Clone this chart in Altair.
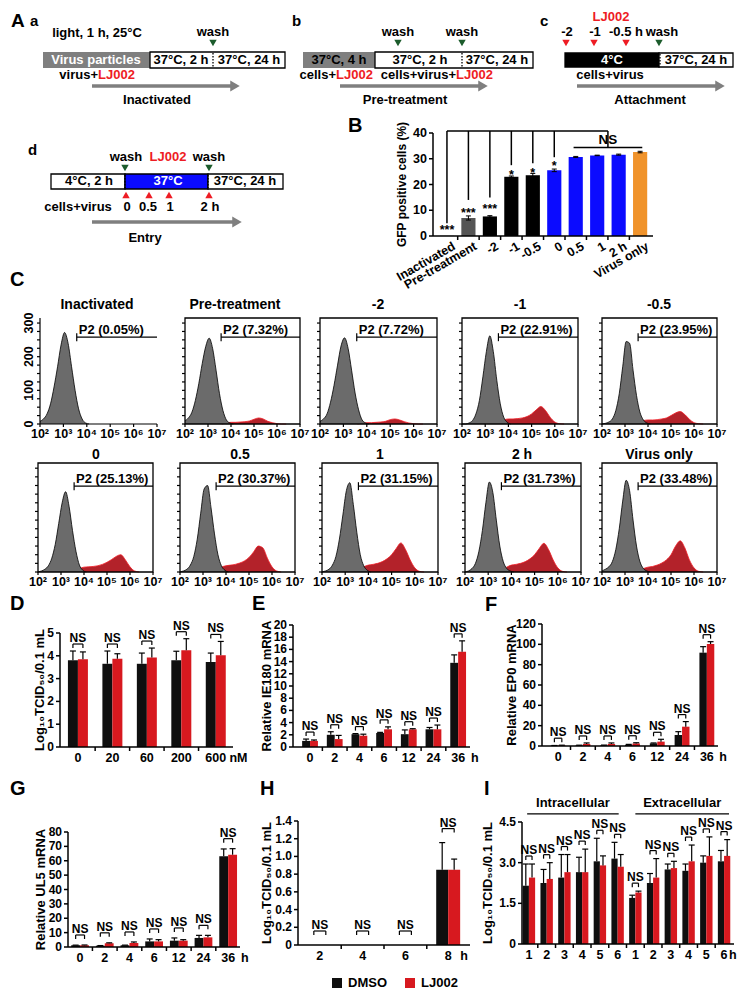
import altair as alt
import pandas as pd

FONT = "Liberation Sans, Arial, sans-serif"
OFF = 8
W, H = 729, 981

BAR_BLACK = "#0f0f0f"
BAR_RED = "#d7191f"
GREEN = "#1c5c2c"
RED_TXT = "#ee1c24"
GRAY = "#7f7f7f"
BLUE = "#0b0bff"

# ---------------- schematic (panel A), reference-pixel coordinates ----------------
BOXES = [  # x1, x2, y1, y2, fill, stroke
    (43, 150, 52, 68, GRAY, "none"),
    (150, 285, 52, 68, "white", "black"),
    (303, 375, 52, 68, GRAY, "none"),
    (375, 533, 52, 68, "white", "black"),
    (565, 659, 53, 67, "black", "black"),
    (659, 733, 53, 67, "white", "black"),
    (51, 125, 174, 189, "white", "black"),
    (125, 208, 174, 189, BLUE, "black"),
    (208, 283, 174, 189, "white", "black"),
    (332, 342, 978, 988, BAR_BLACK, "none"),
    (405, 415, 978, 988, BAR_RED, "none"),
]
DOTTED = [(213, 53, 67), (462, 53, 67), (660, 54, 66), (125, 175, 188), (208, 175, 188)]
TRIANGLES = [
    (213, 43, "triangle-down", GREEN), (398, 43, "triangle-down", GREEN),
    (462, 43, "triangle-down", GREEN), (659, 43, "triangle-down", GREEN),
    (125, 168, "triangle-down", GREEN), (209, 168, "triangle-down", GREEN),
    (566, 43, "triangle-down", RED_TXT), (594, 43, "triangle-down", RED_TXT),
    (626, 43, "triangle-down", RED_TXT),
    (126, 195, "triangle-up", RED_TXT), (149, 195, "triangle-up", RED_TXT),
    (169, 195, "triangle-up", RED_TXT), (209, 195, "triangle-up", RED_TXT),
]
ARROWS = [(92, 240, 86), (340, 488, 86), (577, 725, 86), (92, 242, 222)]
TEXTS = [  # text, x, y, colour, size, align
    ("A", 11, 21, "black", 19, "left"), ("B", 348, 126, "black", 20, "left"),
    ("C", 10, 280, "black", 20, "left"), ("D", 10, 604, "black", 20, "left"),
    ("E", 252, 604, "black", 20, "left"), ("F", 485, 605, "black", 20, "left"),
    ("G", 10, 789, "black", 20, "left"), ("H", 260, 789, "black", 20, "left"),
    ("I", 484, 789, "black", 20, "left"),
    ("a", 30, 21, "black", 15, "left"), ("b", 292, 21, "black", 15, "left"),
    ("c", 540, 21, "black", 15, "left"), ("d", 28, 150, "black", 15, "left"),
    ("light, 1 h, 25°C", 97, 33, "black", 13, "center"),
    ("wash", 213, 32, "black", 13, "center"),
    ("Virus particles", 96, 60, "white", 13, "center"),
    ("37°C, 2 h", 181, 60, "black", 13, "center"),
    ("37°C, 24 h", 249, 60, "black", 13, "center"),
    ("virus+", 98, 75, "black", 13, "right"), ("LJ002", 98, 75, RED_TXT, 13, "left"),
    ("Inactivated", 157, 100, "black", 13, "center"),
    ("wash", 398, 32, "black", 13, "center"), ("wash", 462, 32, "black", 13, "center"),
    ("37°C, 4 h", 339, 60, "black", 13, "center"),
    ("37°C, 2 h", 420, 60, "black", 13, "center"),
    ("37°C, 24 h", 497, 60, "black", 13, "center"),
    ("cells+", 336, 75, "black", 13, "right"), ("LJ002", 336, 75, RED_TXT, 13, "left"),
    ("cells+virus+", 456, 75, "black", 13, "right"), ("LJ002", 456, 75, RED_TXT, 13, "left"),
    ("Pre-treatment", 405, 100, "black", 13, "center"),
    ("LJ002", 611, 17, RED_TXT, 13, "center"),
    ("-2", 567, 32, "black", 13, "center"), ("-1", 595, 32, "black", 13, "center"),
    ("-0.5 h", 626, 32, "black", 13, "center"), ("wash", 662, 32, "black", 13, "center"),
    ("4°C", 612, 60, "white", 13, "center"),
    ("37°C, 24 h", 696, 60, "black", 13, "center"),
    ("cells+virus", 610, 75, "black", 13, "center"),
    ("Attachment", 650, 100, "black", 13, "center"),
    ("wash", 126, 157, "black", 13, "center"), ("LJ002", 168, 157, RED_TXT, 13, "center"),
    ("wash", 209, 157, "black", 13, "center"),
    ("4°C, 2 h", 89, 181, "black", 13, "center"), ("37°C", 168, 181, "white", 13, "center"),
    ("37°C, 24 h", 245, 181, "black", 13, "center"),
    ("cells+virus", 78, 207, "black", 13, "center"), ("0", 127, 207, "black", 13, "center"),
    ("0.5", 148, 207, "black", 13, "center"), ("1", 170, 207, "black", 13, "center"),
    ("2 h", 210, 207, "black", 13, "center"),
    ("Entry", 145, 238, "black", 13, "center"),
    ("DMSO", 348, 983, "black", 13, "left"), ("LJ002", 421, 983, "black", 13, "left"),
]

# ---------------- panel B ----------------
B_CATS = ["Inactivated", "Pre-treatment", "-2", "-1", "-0.5", "0", "0.5", "1", "2 h", "Virus only"]
B_VALS = [0.05, 7.0, 7.6, 23.0, 23.6, 25.5, 30.7, 31.3, 31.6, 32.6]
B_ERR = [0.0, 0.8, 0.3, 0.3, 0.7, 0.5, 0.2, 0.1, 0.2, 0.3]
B_COLORS = ["#000000", "#555555", "#000000", "#000000", "#000000",
            BLUE, BLUE, BLUE, BLUE, "#f0932b"]
B_STARS = ["***", "***", "***", "*", "*", "*"]
B_STAR_Y = [3.5, 10.1, 11.6, 24.9, 25.6, 28.3]
B_DROP_X = [0, 1, 2, 3, 4, 5, 7.5]
B_DROP_END = [5.0, 14.0, 15.0, 27.5, 28.3, 30.6, 34.4]
B_TOP_LINE = 40.8
B_NS_LINE = (5.9, 9.1, 34.4)
B_YTICKS = [0, 10, 20, 30, 40]

# ---------------- panel C (flow cytometry histograms) ----------------
H_TITLES = ["Inactivated", "Pre-treatment", "-2", "-1", "-0.5", "0", "0.5", "1", "2 h", "Virus only"]
H_PCT = ["0.05%", "7.32%", "7.72%", "22.91%", "23.95%", "25.13%", "30.37%", "31.15%", "31.73%", "33.48%"]
GRAY_X = [2.0, 2.15, 2.3, 2.45, 2.6, 2.75, 2.9, 3.05, 3.2, 3.35, 3.5, 3.65, 3.8, 3.95, 4.1]
GRAY_COUNTS = [
    [8, 15, 30, 60, 110, 170, 235, 272, 240, 170, 100, 45, 15, 3, 0],
    [10, 18, 35, 70, 120, 180, 230, 255, 225, 160, 90, 40, 12, 3, 0],
    [8, 15, 30, 65, 115, 175, 232, 256, 225, 160, 92, 42, 12, 3, 0],
    [0, 0, 3, 10, 30, 70, 140, 215, 262, 215, 130, 60, 20, 5, 0],
    [0, 2, 6, 15, 40, 90, 170, 245, 240, 160, 85, 35, 12, 3, 0],
    [0, 3, 8, 18, 40, 80, 140, 200, 232, 190, 120, 60, 20, 5, 0],
    [0, 3, 8, 20, 45, 95, 170, 240, 250, 185, 110, 50, 18, 5, 0],
    [0, 3, 8, 20, 45, 95, 165, 235, 258, 195, 115, 50, 18, 5, 0],
    [0, 3, 10, 25, 60, 120, 200, 260, 230, 150, 75, 30, 10, 3, 0],
    [3, 8, 15, 30, 65, 125, 205, 265, 235, 150, 75, 30, 10, 3, 0],
]
RED_X = [3.6, 3.8, 4.0, 4.2, 4.4, 4.6, 4.8, 5.0, 5.2, 5.4, 5.6, 5.8, 6.0, 6.2, 6.4]
RED_COUNTS = [
    None,
    [0, 3, 5, 5, 6, 7, 9, 14, 18, 15, 8, 4, 1, 0, 0],
    [0, 2, 4, 4, 5, 6, 8, 13, 15, 12, 7, 3, 1, 0, 0],
    [5, 12, 15, 15, 16, 18, 22, 30, 42, 52, 40, 20, 6, 1, 0],
    [4, 10, 12, 12, 13, 15, 18, 25, 33, 37, 28, 14, 4, 1, 0],
    [3, 10, 14, 15, 16, 18, 22, 28, 36, 45, 50, 35, 15, 3, 0],
    [5, 14, 18, 20, 22, 26, 32, 42, 58, 75, 70, 40, 15, 3, 0],
    [5, 15, 20, 22, 25, 30, 38, 50, 68, 84, 65, 35, 12, 2, 0],
    [5, 14, 20, 22, 25, 30, 38, 50, 68, 83, 65, 35, 12, 2, 0],
    [4, 10, 14, 16, 20, 26, 35, 50, 75, 90, 70, 35, 12, 2, 0],
]
GATE_X = 3.57
GATE_Y = [258, 248]
H_XPX = [(40, 157), (185, 300), (320, 437), (462, 578), (602, 717),
         (38, 153), (180, 295), (322, 438), (465, 581), (602, 717)]
H_YPX = [(424, 318), (572, 463)]
H_TITLE_X = [97, 235, 378, 520, 659, 96, 240, 380, 522, 659]
H_TITLE_Y = [305, 455]
H_DECADES = [2, 3, 4, 5, 6, 7]
H_DEC_LABELS = ["10\u00b2", "10\u00b3", "10\u2074", "10\u2075", "10\u2076", "10\u2077"]
H_YTICKS = list(range(0, 301, 25))
H_YLABELS = ["0" if v == 0 else (str(v) if v % 100 == 0 else "") for v in H_YTICKS]

# ---------------- panels D-I ----------------
D_CATS = ["0", "20", "60", "200", "600"]
D_DMSO = [3.8, 3.65, 3.65, 3.8, 3.73]
D_DMSO_TOP = [4.21, 4.21, 4.12, 4.2, 4.12]
D_LJ = [3.85, 3.87, 3.92, 4.24, 4.02]
D_LJ_TOP = [4.17, 4.09, 4.34, 4.75, 4.63]

T_CATS = ["0", "2", "4", "6", "12", "24", "36"]
E_DMSO = [1.0, 2.0, 2.1, 2.3, 2.1, 2.9, 13.8]
E_DMSO_TOP = [1.3, 2.5, 2.2, 2.4, 2.8, 3.2, 15.1]
E_LJ = [1.0, 1.3, 1.85, 2.9, 2.9, 2.9, 15.6]
E_LJ_TOP = [1.15, 1.9, 2.1, 3.3, 3.0, 3.6, 17.4]

F_DMSO = [0.3, 0.5, 0.6, 1.2, 2.6, 10.8, 91.8]
F_DMSO_TOP = [0.5, 0.8, 0.9, 1.6, 3.0, 14.1, 97.7]
F_LJ = [0.5, 2.0, 2.0, 2.5, 4.3, 19.0, 100.3]
F_LJ_TOP = [0.8, 3.0, 3.0, 3.2, 6.6, 24.0, 102.6]

G_DMSO = [1.2, 0.9, 1.2, 3.9, 4.4, 6.3, 63.1]
G_DMSO_TOP = [1.3, 1.0, 1.3, 5.6, 6.3, 8.1, 68.2]
G_LJ = [1.2, 2.6, 2.8, 3.9, 4.4, 6.7, 64.2]
G_LJ_TOP = [1.4, 2.9, 3.5, 5.1, 5.1, 8.1, 68.4]

H_CATS = ["2", "4", "6", "8"]
H_DMSO = [0, 0, 0, 0.85]
H_DMSO_TOP = [0, 0, 0, 1.156]
H_LJ = [0, 0, 0, 0.85]
H_LJ_TOP = [0, 0, 0, 0.97]

I_CATS = ["1", "2", "3", "4", "5", "6", "1", "2", "3", "4", "5", "6"]
I_DMSO = [2.15, 2.25, 2.45, 2.65, 3.05, 3.15, 1.7, 2.25, 2.75, 2.7, 3.0, 3.05]
I_DMSO_TOP = [2.95, 2.75, 3.3, 3.2, 3.9, 3.75, 1.8, 2.6, 2.95, 2.95, 3.25, 3.45]
I_LJ = [2.45, 2.4, 2.65, 2.65, 2.9, 2.85, 1.9, 2.45, 2.8, 3.05, 3.25, 3.25]
I_LJ_TOP = [2.95, 3.0, 3.3, 3.5, 3.25, 3.3, 1.95, 3.15, 3.05, 3.65, 3.95, 3.85]
I_GROUPS = [("Intracellular", -0.1, 5.06), ("Extracellular", 6.0, 11.28)]

TCID = "Log\u2081\u2080TCID\u2085\u2080/0.1 mL"


def one_dec(v):
    return "0" if v == 0 else f"{v:.1f}"


PANELS = [
    dict(cats=D_CATS, d=D_DMSO, dt=D_DMSO_TOP, l=D_LJ, lt=D_LJ_TOP, xpx=(60, 233), xdom=[-0.52, 4.5],
         ypx=(747, 633), ydom=[0, 5], yticks=[0, 1, 2, 3, 4, 5], title=TCID, toff=20, unit="nM", ux=4.66,
         bw=0.29, gap=7, fmt=str),
    dict(cats=T_CATS, d=E_DMSO, dt=E_DMSO_TOP, l=E_LJ, lt=E_LJ_TOP, xpx=(293, 470), xdom=[-0.69, 6.48],
         ypx=(747, 625), ydom=[0, 20], yticks=list(range(0, 21, 2)), title="Relative IE180 mRNA", toff=26,
         unit="h", ux=6.68, bw=0.32, gap=7, fmt=str),
    dict(cats=T_CATS, d=F_DMSO, dt=F_DMSO_TOP, l=F_LJ, lt=F_LJ_TOP, xpx=(542, 718), xdom=[-0.65, 6.45],
         ypx=(746, 624), ydom=[0, 120], yticks=list(range(0, 121, 20)), title="Relative EP0 mRNA", toff=30,
         unit="h", ux=6.65, bw=0.3, gap=7, fmt=str),
    dict(cats=T_CATS, d=G_DMSO, dt=G_DMSO_TOP, l=G_LJ, lt=G_LJ_TOP, xpx=(68, 240), xdom=[-0.49, 6.48],
         ypx=(947, 832), ydom=[0, 80], yticks=list(range(0, 81, 10)), title="Relative UL5 mRNA", toff=27,
         unit="h", ux=6.68, bw=0.36, gap=10, fmt=str),
    dict(cats=H_CATS, d=H_DMSO, dt=H_DMSO_TOP, l=H_LJ, lt=H_LJ_TOP, xpx=(298, 470), xdom=[-0.51, 3.51],
         ypx=(945, 821), ydom=[0, 1.4], yticks=[0, 0.2, 0.4, 0.6, 0.8, 1.0, 1.2, 1.4], title=TCID, toff=31,
         unit="h", ux=3.37, bw=0.28, gap=14, fmt=one_dec),
    dict(cats=I_CATS, d=I_DMSO, dt=I_DMSO_TOP, l=I_LJ, lt=I_LJ_TOP, xpx=(522, 734), xdom=[-0.39, 11.56],
         ypx=(944, 822), ydom=[0, 4.5], yticks=[0, 1.5, 3.0, 4.5], title=TCID, toff=34,
         unit="h", ux=11.5, bw=0.35, gap=8, fmt=one_dec),
]


def sc(domain, a, b):
    return alt.Scale(domain=domain, range=[a - OFF, b - OFF], nice=False, zero=False)


def txt(**kw):
    base = dict(font=FONT, fontWeight="bold", color="black")
    base.update(kw)
    return base


def make_pos(sx, sy):
    def PX(f):
        return alt.X(f + ":Q", scale=sx, axis=None)

    def PY(f):
        return alt.Y(f + ":Q", scale=sy, axis=None)
    return PX, PY


def manual_axes(PX, PY, xd, yd, yticks, ylabels, title, toff, xticks, lw=1.5, tl=4,
                lsize=12, tsize=13, domain=True, rotate_labels=False):
    L = []
    dom = pd.DataFrame({"x": [xd[0]], "x2": [xd[1]], "y": [yd[0]], "y2": [yd[1]]})
    if domain:
        L.append(alt.Chart(dom).mark_rule(color="black", strokeWidth=lw)
                 .encode(x=PX("x"), y=PY("y"), y2="y2:Q"))
        L.append(alt.Chart(dom).mark_rule(color="black", strokeWidth=lw)
                 .encode(x=PX("x"), x2="x2:Q", y=PY("y")))
    yt = pd.DataFrame({"x": [xd[0]] * len(yticks), "y": yticks,
                       "t": ylabels if ylabels is not None else [""] * len(yticks)})
    L.append(alt.Chart(yt).mark_rule(color="black", strokeWidth=lw, xOffset=-tl)
             .encode(x=PX("x"), x2="x:Q", y=PY("y")))
    if ylabels is not None:
        if rotate_labels:
            mk = txt(fontSize=lsize, angle=270, align="center", baseline="bottom", xOffset=-(tl + 1))
        else:
            mk = txt(fontSize=lsize, align="right", baseline="middle", dx=-(tl + 2))
        L.append(alt.Chart(yt).mark_text(**mk).encode(x=PX("x"), y=PY("y"), text="t:N"))
    if title:
        tdf_ = pd.DataFrame({"x": [xd[0]], "y": [(yd[0] + yd[1]) / 2], "t": [title]})
        L.append(alt.Chart(tdf_).mark_text(**txt(fontSize=tsize, angle=270, align="center",
                                                 baseline="middle", xOffset=-toff))
                 .encode(x=PX("x"), y=PY("y"), text="t:N"))
    xt = pd.DataFrame({"x": xticks, "y": [yd[0]] * len(xticks)})
    L.append(alt.Chart(xt).mark_rule(color="black", strokeWidth=lw, y2Offset=tl)
             .encode(x=PX("x"), y=PY("y"), y2="y:Q"))
    return L


# ---------------- canvas layer ----------------
cxs = alt.Scale(domain=[OFF, OFF + W], range=[0, W], nice=False, zero=False)
cys = alt.Scale(domain=[OFF, OFF + H], range=[0, H], nice=False, zero=False)
CX, CY = make_pos(cxs, cys)

canvas = []
canvas.append(alt.Chart(pd.DataFrame(BOXES, columns=["x", "x2", "y", "y2", "fill", "stroke"]))
              .mark_rect(strokeWidth=1.3)
              .encode(x=CX("x"), x2="x2:Q", y=CY("y"), y2="y2:Q",
                      fill=alt.Fill("fill:N", scale=None), stroke=alt.Stroke("stroke:N", scale=None)))
canvas.append(alt.Chart(pd.DataFrame(DOTTED, columns=["x", "y", "y2"]))
              .mark_rule(strokeDash=[1.5, 1.5], strokeWidth=1.3, color="black")
              .encode(x=CX("x"), y=CY("y"), y2="y2:Q"))
canvas.append(alt.Chart(pd.DataFrame(TRIANGLES, columns=["x", "y", "shape", "color"]))
              .mark_point(filled=True, size=55, opacity=1)
              .encode(x=CX("x"), y=CY("y"), shape=alt.Shape("shape:N", scale=None),
                      color=alt.Color("color:N", scale=None)))
arr = pd.DataFrame(ARROWS, columns=["x", "x2", "y"])
arr["xe"] = arr["x2"] - 5
canvas.append(alt.Chart(arr).mark_rule(strokeWidth=3.5, color=GRAY)
              .encode(x=CX("x"), x2="xe:Q", y=CY("y")))
canvas.append(alt.Chart(arr).mark_point(filled=True, shape="triangle-right", size=120, color=GRAY, opacity=1)
              .encode(x=CX("xe"), y=CY("y")))
tdf = pd.DataFrame(TEXTS, columns=["t", "x", "y", "color", "size", "align"])
for k in range(10):
    tdf.loc[len(tdf)] = [H_TITLES[k], H_TITLE_X[k], H_TITLE_Y[k // 5], "black", 14, "center"]
for al in ["left", "center", "right"]:
    canvas.append(alt.Chart(tdf[tdf["align"] == al])
                  .mark_text(align=al, baseline="middle", font=FONT, fontWeight="bold")
                  .encode(x=CX("x"), y=CY("y"), text="t:N",
                          color=alt.Color("color:N", scale=None), size=alt.Size("size:Q", scale=None)))
panels = [alt.layer(*canvas)]

# ---------------- panel B ----------------
sxB = sc([-0.65, 9.6], 433, 653)
syB = sc([0, 40], 236, 133)
BX, BY = make_pos(sxB, syB)
bdf = pd.DataFrame({"i": range(10), "v": B_VALS, "e": B_ERR, "c": B_COLORS, "t": B_CATS})
bdf["x"] = bdf["i"] - 0.33
bdf["x2"] = bdf["i"] + 0.33
bdf["y0"] = 0
bdf["lo"] = bdf["v"] - bdf["e"]
bdf["hi"] = bdf["v"] + bdf["e"]
bl = []
bl.append(alt.Chart(bdf).mark_rect().encode(x=BX("x"), x2="x2:Q", y=BY("v"), y2="y0:Q",
                                            color=alt.Color("c:N", scale=None)))
be = bdf[bdf["e"] > 0]
bl.append(alt.Chart(be).mark_rule(color="black", strokeWidth=1).encode(x=BX("i"), y=BY("lo"), y2="hi:Q"))
for f in ["lo", "hi"]:
    bl.append(alt.Chart(be).mark_rule(color="black", strokeWidth=1, xOffset=-2.5, x2Offset=2.5)
              .encode(x=BX("i"), x2="i:Q", y=BY(f)))
bl += manual_axes(BX, BY, [-0.65, 9.6], [0, 40], B_YTICKS, [str(v) for v in B_YTICKS],
                  "GFP positive cells (%)", 31, [i + 0.5 for i in range(9)], lsize=12.5, tsize=12)
hl = pd.DataFrame({"x": [0, B_NS_LINE[0]], "x2": [7.5, B_NS_LINE[1]], "y": [B_TOP_LINE, B_NS_LINE[2]]})
bl.append(alt.Chart(hl).mark_rule(color="black", strokeWidth=1.5).encode(x=BX("x"), x2="x2:Q", y=BY("y")))
vl = pd.DataFrame({"x": B_DROP_X, "y": [B_TOP_LINE] * len(B_DROP_X), "y2": B_DROP_END})
bl.append(alt.Chart(vl).mark_rule(color="black", strokeWidth=1.5).encode(x=BX("x"), y=BY("y"), y2="y2:Q"))
bl.append(alt.Chart(pd.DataFrame({"x": [7.5], "y": [B_NS_LINE[2]], "t": ["NS"]}))
          .mark_text(**txt(fontSize=13.5, baseline="alphabetic", yOffset=-3))
          .encode(x=BX("x"), y=BY("y"), text="t:N"))
bl.append(alt.Chart(pd.DataFrame({"x": range(6), "y": B_STAR_Y, "t": B_STARS}))
          .mark_text(**txt(fontSize=12.5, baseline="alphabetic", yOffset=7))
          .encode(x=BX("x"), y=BY("y"), text="t:N"))
lab = bdf.copy()
lab["lx"] = lab["i"] + 0.2
bl.append(alt.Chart(lab).mark_text(**txt(fontSize=12.5, align="right", baseline="top", angle=330, yOffset=4))
          .encode(x=BX("lx"), y=BY("y0"), text="t:N"))
panels.append(alt.layer(*bl))

# ---------------- panel C ----------------
for k in range(10):
    x0, x1 = H_XPX[k]
    yb, yt = H_YPX[k // 5]
    PX, PY = make_pos(sc([2, 7], x0, x1), sc([0, 315], yb, yt))
    hl_ = []
    if RED_COUNTS[k] is not None:
        red = pd.DataFrame({"x": RED_X, "y": RED_COUNTS[k]})
        hl_.append(alt.Chart(red).mark_area(color="#b3222a", opacity=1, interpolate="monotone",
                                             line={"color": "#f01c24", "strokeWidth": 0.8})
                   .encode(x=PX("x"), y=PY("y")))
    gray = pd.DataFrame({"x": GRAY_X, "y": GRAY_COUNTS[k]})
    hl_.append(alt.Chart(gray).mark_area(color="#6b6b6b", opacity=1, interpolate="monotone",
                                          line={"color": "black", "strokeWidth": 0.8})
               .encode(x=PX("x"), y=PY("y")))
    if k != 0:
        hl_.append(alt.Chart(pd.DataFrame({"x": [2], "x2": [7], "y": [0], "y2": [315]}))
                   .mark_rect(fill="transparent", stroke="black", strokeWidth=1.3)
                   .encode(x=PX("x"), x2="x2:Q", y=PY("y"), y2="y2:Q"))
    hl_ += manual_axes(PX, PY, [2, 7], [0, 315], H_YTICKS, H_YLABELS if k == 0 else None, None, 0,
                       H_DECADES, lw=1.2, tl=3, lsize=12.5, domain=(k == 0), rotate_labels=True)
    dl = pd.DataFrame({"x": H_DECADES, "y": [0] * 6, "t": H_DEC_LABELS})
    hl_.append(alt.Chart(dl).mark_text(**txt(fontSize=12.5, baseline="top", yOffset=4))
               .encode(x=PX("x"), y=PY("y"), text="t:N"))
    gy = GATE_Y[k // 5]
    gd = pd.DataFrame({"x": [GATE_X], "x2": [7], "y": [gy], "t": ["P2 (" + H_PCT[k] + ")"]})
    hl_.append(alt.Chart(gd).mark_rule(color="black", strokeWidth=1.2)
               .encode(x=PX("x"), x2="x2:Q", y=PY("y")))
    hl_.append(alt.Chart(gd).mark_rule(color="black", strokeWidth=1.2, yOffset=-4, y2Offset=4)
               .encode(x=PX("x"), y=PY("y"), y2="y:Q"))
    hl_.append(alt.Chart(gd).mark_text(**txt(fontSize=13, align="left", baseline="alphabetic", dx=2, dy=-3))
               .encode(x=PX("x"), y=PY("y"), text="t:N"))
    panels.append(alt.layer(*hl_))

# ---------------- panels D-I ----------------
for P in PANELS:
    n = len(P["cats"])
    PX, PY = make_pos(sc(P["xdom"], *P["xpx"]), sc(P["ydom"], *P["ypx"]))
    bw = P["bw"]
    rows, errs, brk = [], [], []
    for i in range(n):
        rows.append({"x": i - bw, "x2": i, "y": P["d"][i], "y0": 0, "c": BAR_BLACK})
        rows.append({"x": i, "x2": i + bw, "y": P["l"][i], "y0": 0, "c": BAR_RED})
        if P["dt"][i] > P["d"][i]:
            errs.append({"x": i - bw / 2, "lo": P["d"][i], "hi": P["dt"][i]})
        if P["lt"][i] > P["l"][i]:
            errs.append({"x": i + bw / 2, "lo": P["l"][i], "hi": P["lt"][i]})
        top = max(P["d"][i], P["l"][i], P["dt"][i], P["lt"][i])
        brk.append({"xa": i - bw / 2, "xb": i + bw / 2, "xm": i, "top": top, "t": "NS"})
    rdf, edf, kdf = pd.DataFrame(rows), pd.DataFrame(errs), pd.DataFrame(brk)
    g = P["gap"]
    L = []
    L.append(alt.Chart(rdf).mark_rect().encode(x=PX("x"), x2="x2:Q", y=PY("y"), y2="y0:Q",
                                               color=alt.Color("c:N", scale=None)))
    L.append(alt.Chart(edf).mark_rule(color="black", strokeWidth=1.2).encode(x=PX("x"), y=PY("lo"), y2="hi:Q"))
    L.append(alt.Chart(edf).mark_rule(color="black", strokeWidth=1.2, xOffset=-3, x2Offset=3)
             .encode(x=PX("x"), x2="x:Q", y=PY("hi")))
    L += manual_axes(PX, PY, P["xdom"], P["ydom"], P["yticks"], [P["fmt"](v) for v in P["yticks"]],
                     P["title"], P["toff"], [i + 0.5 for i in range(n - 1)])
    L.append(alt.Chart(kdf).mark_rule(color="black", strokeWidth=1.2, yOffset=-g)
             .encode(x=PX("xa"), x2="xb:Q", y=PY("top")))
    for f in ["xa", "xb"]:
        L.append(alt.Chart(kdf).mark_rule(color="black", strokeWidth=1.2, yOffset=-g, y2Offset=-g + 4)
                 .encode(x=PX(f), y=PY("top"), y2="top:Q"))
    L.append(alt.Chart(kdf).mark_text(**txt(fontSize=12, baseline="alphabetic", yOffset=-(g + 2)))
             .encode(x=PX("xm"), y=PY("top"), text="t:N"))
    cdf = pd.DataFrame({"x": list(range(n)) + [P["ux"]], "t": list(P["cats"]) + [P["unit"]]})
    cdf["y"] = P["ydom"][0]
    L.append(alt.Chart(cdf).mark_text(**txt(fontSize=12.5, baseline="middle", yOffset=11))
             .encode(x=PX("x"), y=PY("y"), text="t:N"))
    if P["cats"] is I_CATS:
        gdf = pd.DataFrame(I_GROUPS, columns=["t", "x", "x2"])
        gdf["xm"] = (gdf["x"] + gdf["x2"]) / 2
        gdf["y"] = 4.8
        gdf["ty"] = 5.2
        L.append(alt.Chart(gdf).mark_rule(color="black", strokeWidth=1.3)
                 .encode(x=PX("x"), x2="x2:Q", y=PY("y")))
        L.append(alt.Chart(gdf).mark_text(**txt(fontSize=13, baseline="middle"))
                 .encode(x=PX("xm"), y=PY("ty"), text="t:N"))
    panels.append(alt.layer(*L))

chart = (alt.layer(*panels)
         .resolve_scale(x="independent", y="independent")
         .properties(width=W, height=H, padding=0, background="white",
                     autosize=alt.AutoSizeParams(type="none"))
         .configure_view(stroke=None))

chart.save("out.html", embed_options={"renderer": "svg", "actions": False})
